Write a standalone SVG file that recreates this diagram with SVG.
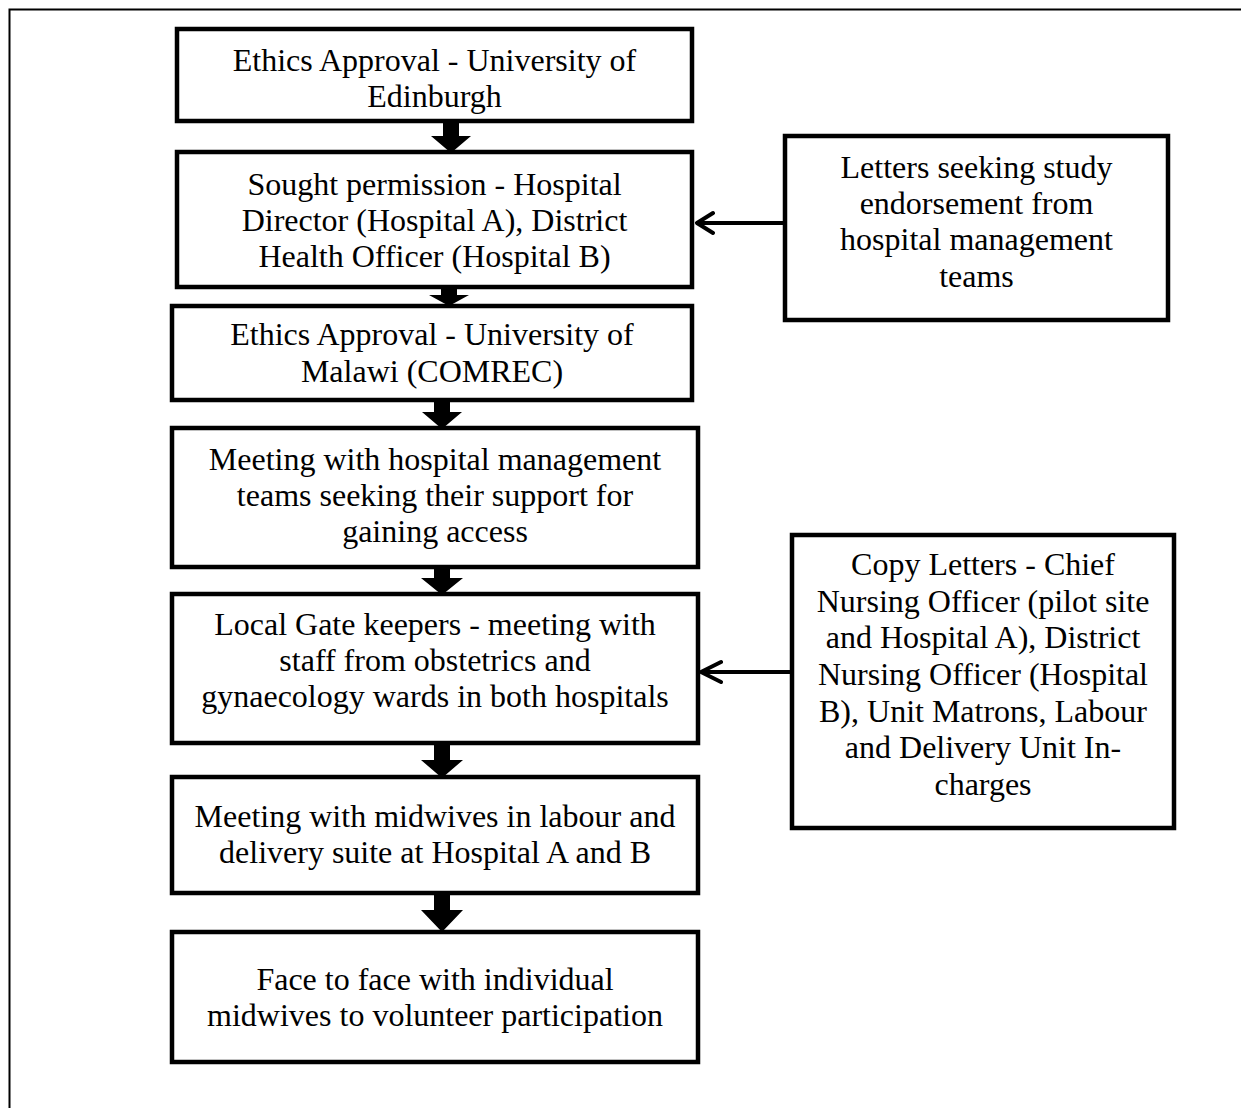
<svg xmlns="http://www.w3.org/2000/svg" width="1241" height="1108" viewBox="0 0 1241 1108">
<style>
.box{fill:#fff;stroke:#000;stroke-width:4.5}
.t{font-family:"Liberation Serif","Times New Roman",serif;font-size:32px;fill:#000;text-anchor:middle}
.blk{fill:#000}
.ln{fill:none;stroke:#000;stroke-width:4;stroke-linecap:round;stroke-linejoin:round}
</style>
<rect width="1241" height="1108" fill="#fff"/>
<path d="M9.5,1108 V9.5 H1241" fill="none" stroke="#000" stroke-width="2"/>
<g id="connectors">
<polygon class="blk" points="443,120 459,120 459,136 471,136 451,153 431,136 443,136"/>
<polygon class="blk" points="441,287 457,287 457,295 469,295 449,306 429,295 441,295"/>
<polygon class="blk" points="434,399 450,399 450,412 462,412 442,429 422,412 434,412"/>
<polygon class="blk" points="434,566 450,566 450,578 463,578 442,595 421,578 434,578"/>
<polygon class="blk" points="434,743 450,743 450,760 463,760 442,778 421,760 434,760"/>
<polygon class="blk" points="434,892 450,892 450,910 463,910 442,932 421,910 434,910"/>
<path class="ln" d="M785,223 H697 M713,213 L697,223 L713,233"/>
<path class="ln" d="M792,672 H701 M721,662 L701,672 L721,682"/>
</g>
<g id="n1"><rect class="box" x="177" y="29" width="515" height="92"/>
<text class="t" x="434.5" y="71">Ethics Approval - University of</text>
<text class="t" x="434.5" y="107">Edinburgh</text></g>
<g id="n2"><rect class="box" x="177" y="152" width="515" height="135"/>
<text class="t" x="434.5" y="195">Sought permission - Hospital</text>
<text class="t" x="434.5" y="231">Director (Hospital A), District</text>
<text class="t" x="434.5" y="267">Health Officer (Hospital B)</text></g>
<g id="n3"><rect class="box" x="172" y="306" width="520" height="94"/>
<text class="t" x="432" y="345">Ethics Approval - University of</text>
<text class="t" x="432" y="382">Malawi (COMREC)</text></g>
<g id="n4"><rect class="box" x="172" y="428" width="526" height="139"/>
<text class="t" x="435" y="470">Meeting with hospital management</text>
<text class="t" x="435" y="506">teams seeking their support for</text>
<text class="t" x="435" y="542">gaining access</text></g>
<g id="n5"><rect class="box" x="172" y="594" width="526" height="149"/>
<text class="t" x="435" y="635">Local Gate keepers - meeting with</text>
<text class="t" x="435" y="671">staff from obstetrics and</text>
<text class="t" x="435" y="707">gynaecology wards in both hospitals</text></g>
<g id="n6"><rect class="box" x="172" y="777" width="526" height="116"/>
<text class="t" x="435" y="827">Meeting with midwives in labour and</text>
<text class="t" x="435" y="863">delivery suite at Hospital A and B</text></g>
<g id="n7"><rect class="box" x="172" y="932" width="526" height="130"/>
<text class="t" x="435" y="990">Face to face with individual</text>
<text class="t" x="435" y="1026">midwives to volunteer participation</text></g>
<g id="r1"><rect class="box" x="785" y="136" width="383" height="184"/>
<text class="t" x="976.5" y="178">Letters seeking study</text>
<text class="t" x="976.5" y="214">endorsement from</text>
<text class="t" x="976.5" y="250">hospital management</text>
<text class="t" x="976.5" y="287">teams</text></g>
<g id="r2"><rect class="box" x="792" y="535" width="382" height="293"/>
<text class="t" x="983" y="575">Copy Letters - Chief</text>
<text class="t" x="983" y="612">Nursing Officer (pilot site</text>
<text class="t" x="983" y="648">and Hospital A), District</text>
<text class="t" x="983" y="685">Nursing Officer (Hospital</text>
<text class="t" x="983" y="722">B), Unit Matrons, Labour</text>
<text class="t" x="983" y="758">and Delivery Unit In-</text>
<text class="t" x="983" y="795">charges</text></g>
</svg>
